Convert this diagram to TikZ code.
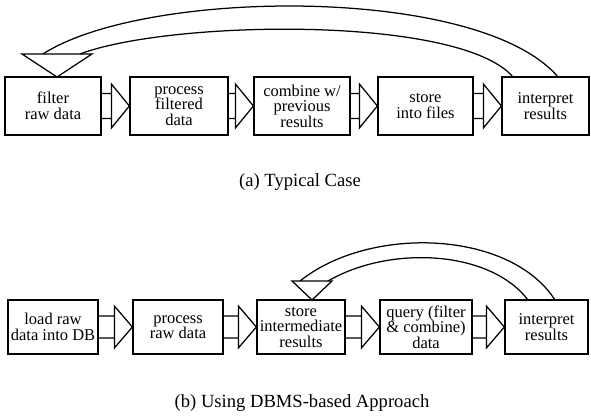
\documentclass[tikz,border=0pt]{standalone}
\usepackage{fontspec}
\setmainfont{Liberation Serif}
\usetikzlibrary{calc}
\tikzset{
  stage/.style={draw, line width=1.25pt, rectangle, inner sep=0pt, align=center,
    font=\fontsize{16.5}{15.5}\selectfont},
  caption/.style={font=\fontsize{18.6}{20}\selectfont},
  lw/.style={line width=1.25pt, line join=miter}
}
\newcommand\flowarrow[4]{%
  \draw[lw] let \p1=(#1.east), \p2=(#2.west) in
    (\x1,\y2+#3pt) -- (\x2-18pt,\y2+#3pt)
    (\x1,\y2-#3pt) -- (\x2-18pt,\y2-#3pt)
    (\x2-18pt,\y2+#4pt) -- (\p2) -- (\x2-18pt,\y2-#4pt) -- cycle;}
\begin{document}
\begin{tikzpicture}[x=1pt,y=-1pt]
\useasboundingbox (0,0) rectangle (591,417);
% top row
\node[stage, minimum width=96pt, minimum height=58pt] (a1) at (53,106) {filter\\raw data};
\node[stage, minimum width=98pt, minimum height=58pt] (a2) at (179,106) {process\\filtered\\data};
\node[stage, minimum width=96pt, minimum height=58pt] (a3) at (302,106) {combine w/\\previous\\results};
\node[stage, minimum width=95pt, minimum height=58pt] (a4) at (425.5,106) {store\\into files};
\node[stage, minimum width=87pt, minimum height=58pt] (a5) at (545.5,106) {interpret\\results};
\flowarrow{a1}{a2}{12.5}{22}
\flowarrow{a2}{a3}{12.5}{22}
\flowarrow{a3}{a4}{12.5}{22}
\flowarrow{a4}{a5}{12.5}{22}
% top feedback
\coordinate (ta) at (57,77);
\coordinate (tl) at (22,54);
\coordinate (tr) at (92,54);
\coordinate (to) at (43,54);
\coordinate (ti) at (80,54);
\coordinate (so) at (558,77);
\coordinate (si) at (513,77);
\draw[lw] (tl) -- (tr) -- (ta) -- cycle;
\draw[lw] (so) .. controls (480,-15) and (145,-12) .. (to);
\draw[lw] (si) .. controls (460,15) and (170,20) .. (ti);
\node[caption] (capa) at (300,182) {(a) Typical Case};
% bottom row
\node[stage, minimum width=90pt, minimum height=54pt] (b1) at (53,327) {load raw\\data into DB};
\node[stage, minimum width=90pt, minimum height=54pt] (b2) at (178,327) {process\\raw data};
\node[stage, minimum width=88pt, minimum height=54pt] (b3) at (301,327) {store\\intermediate\\results};
\node[stage, minimum width=92pt, minimum height=54pt] (b4) at (426,327) {query (filter\\\& combine)\\data};
\node[stage, minimum width=83pt, minimum height=54pt] (b5) at (546.5,327) {interpret\\results};
\flowarrow{b1}{b2}{11}{21}
\flowarrow{b2}{b3}{11}{21}
\flowarrow{b3}{b4}{11}{21}
\flowarrow{b4}{b5}{11}{21}
% bottom feedback
\coordinate (ba) at (312,300);
\coordinate (bl) at (292,281);
\coordinate (br) at (332,281);
\coordinate (bo) at (300,281);
\coordinate (bi) at (328,281);
\coordinate (bso) at (555,300);
\coordinate (bsi) at (528,300);
\draw[lw] (bl) -- (br) -- (ba) -- cycle;
\draw[lw] (bso) .. controls (510,230) and (370,225) .. (bo);
\draw[lw] (bsi) .. controls (490,250) and (390,245) .. (bi);
\node[caption] (capb) at (302,403) {(b) Using DBMS-based Approach};
\end{tikzpicture}
\end{document}
